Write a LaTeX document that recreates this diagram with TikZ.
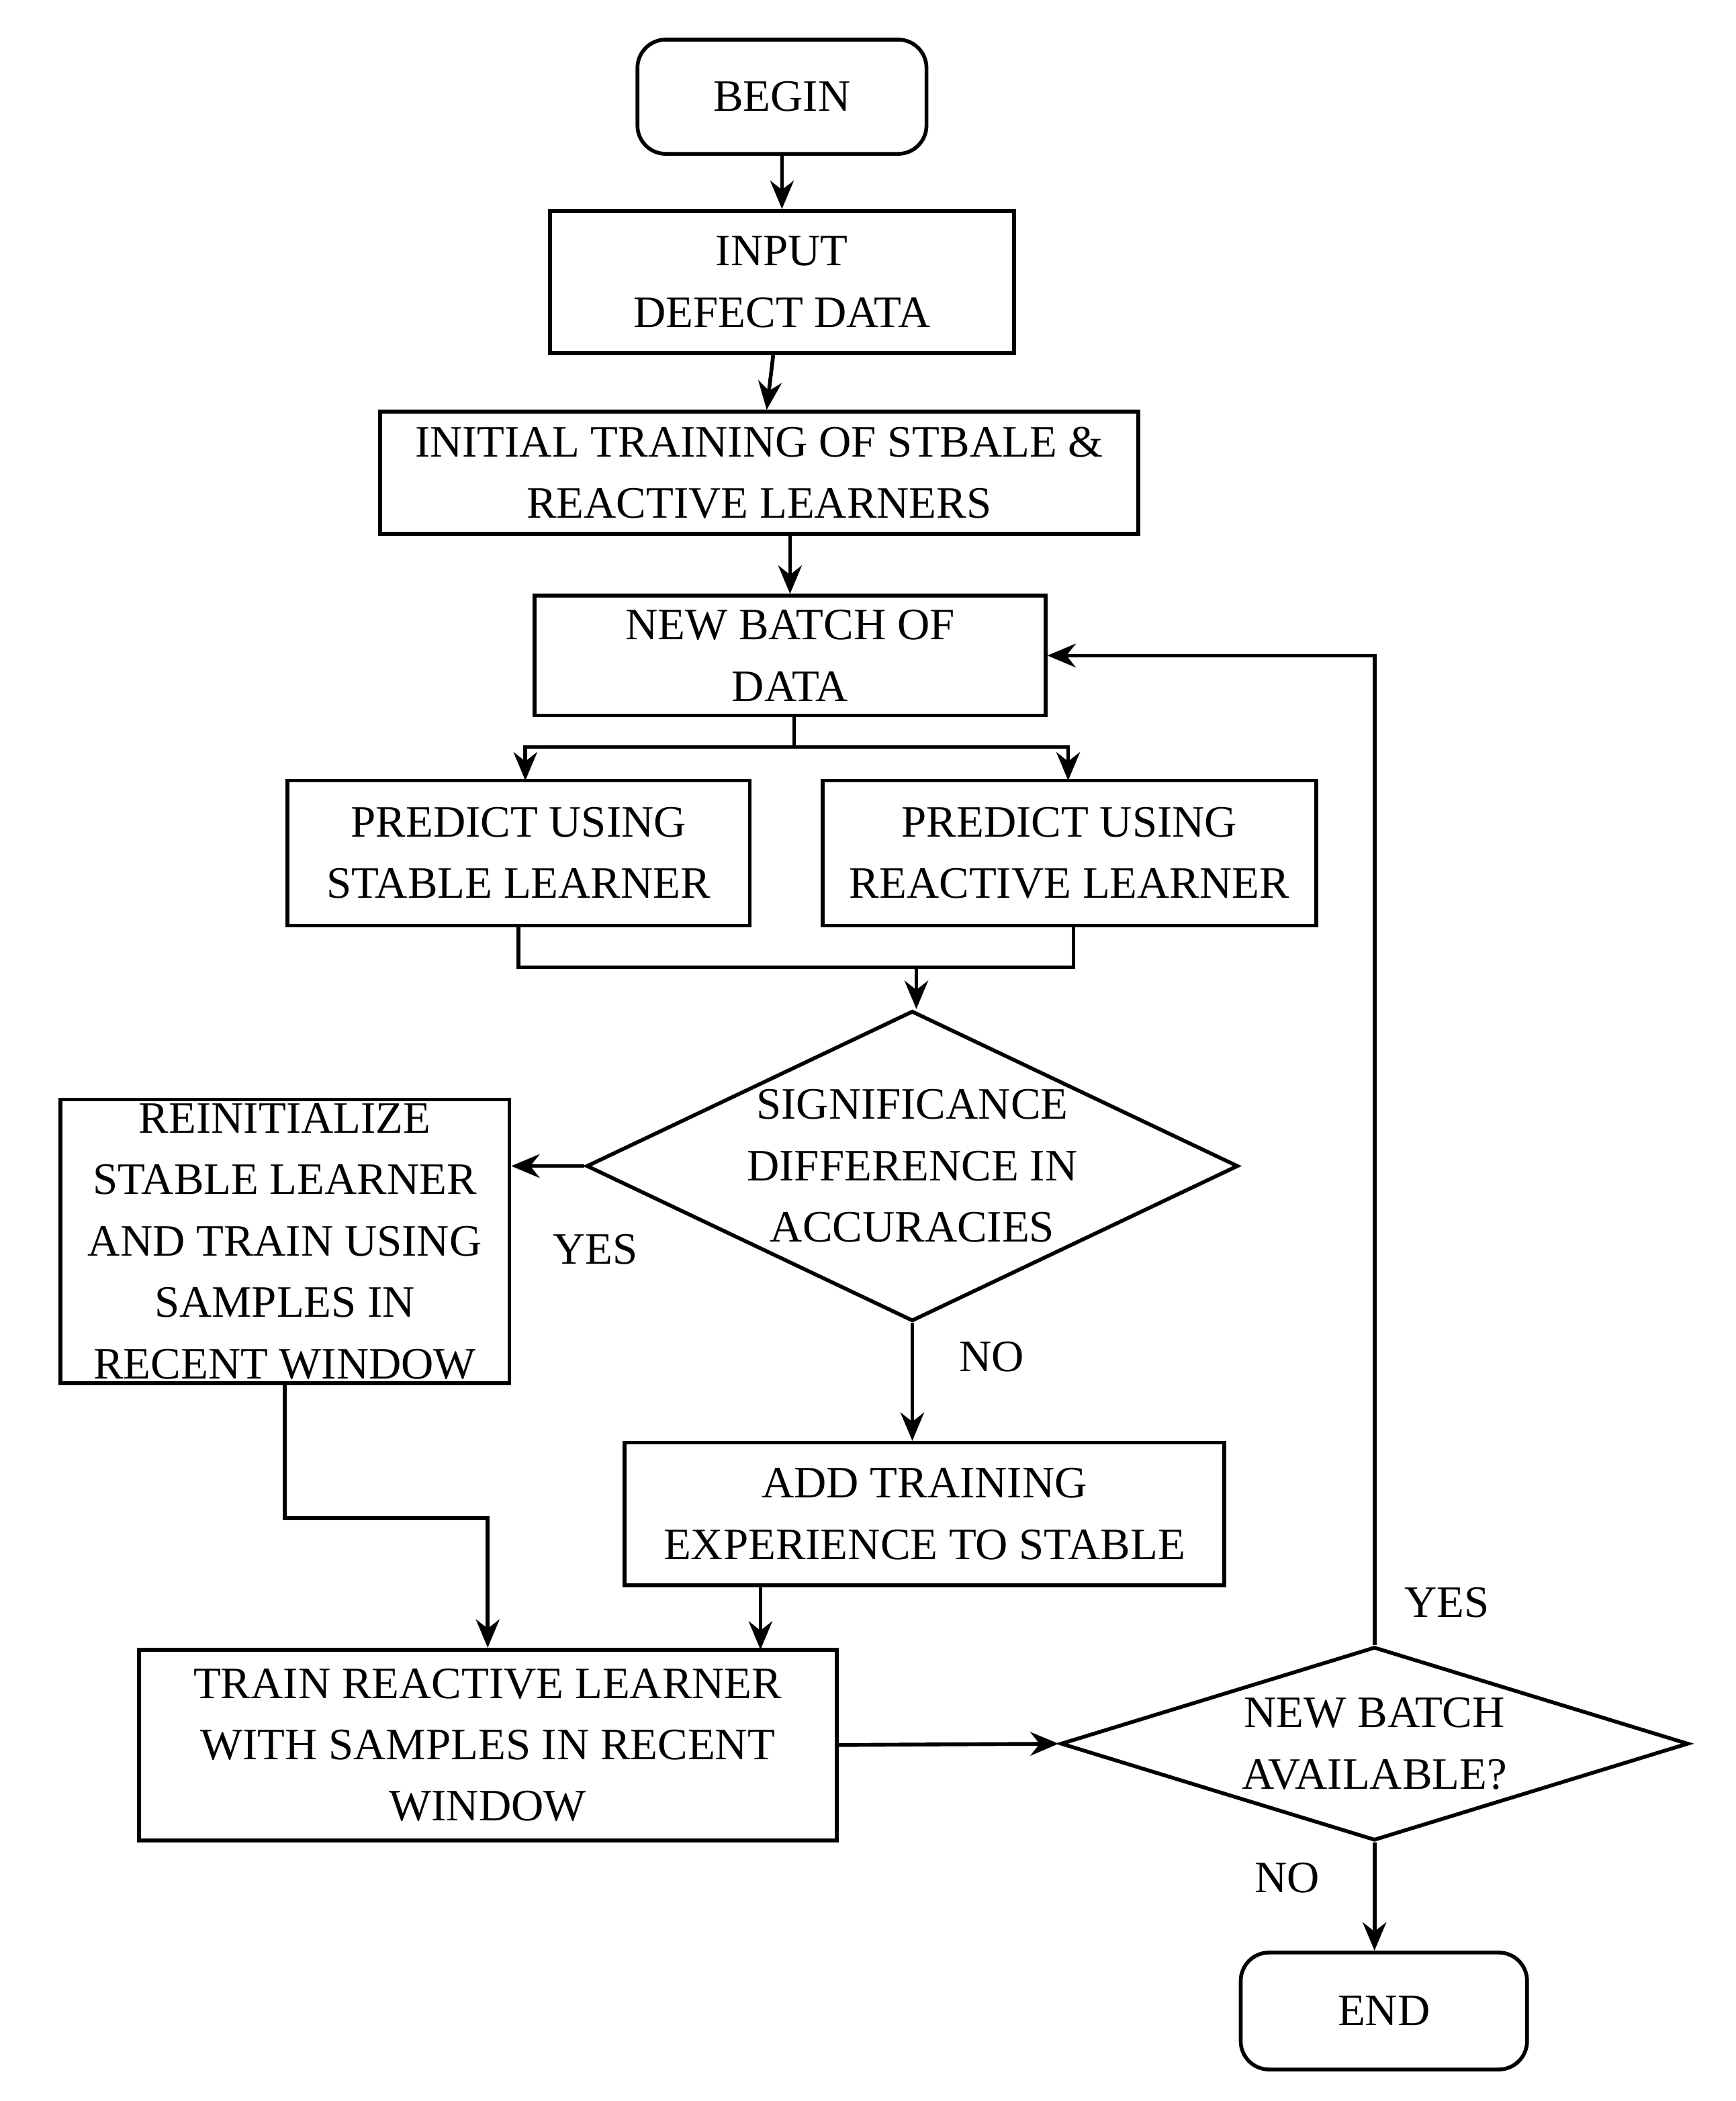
\documentclass[tikz,border=0pt]{standalone}
\usepackage{fontspec}
\setmainfont{Liberation Serif}
\usetikzlibrary{arrows.meta,shapes.geometric}

\tikzset{
  box/.style={draw, thick, align=center, inner sep=0pt},
  term/.style={box, rounded corners=6pt},
  decision/.style={draw, thick, diamond, aspect=2.1, align=center, inner sep=0pt},
  flow/.style={thick, -{Stealth[length=6pt,width=5pt]}},
  lbl/.style={font=\fontsize{9.5}{11}\selectfont}
}

\begin{document}
\begin{tikzpicture}[x=0.01cm,y=-0.01cm, every node/.style={font=\fontsize{9.5}{13}\selectfont}]
\useasboundingbox (0,0) rectangle (1292,1564);
% boxes
\node[term, minimum width=2.15cm, minimum height=0.85cm] (begin) at (582,72) {BEGIN};
\node[box, minimum width=3.45cm, minimum height=1.06cm] (input) at (582,210) {INPUT\\DEFECT DATA};
\node[box, minimum width=5.64cm, minimum height=0.91cm] (init) at (565,352) {INITIAL TRAINING OF STBALE \&\\REACTIVE LEARNERS};
\node[box, minimum width=3.8cm, minimum height=0.89cm] (batch) at (588,488) {NEW BATCH OF\\DATA};
\node[box, minimum width=3.44cm, minimum height=1.08cm] (pstable) at (386,635) {PREDICT USING\\STABLE LEARNER};
\node[box, minimum width=3.67cm, minimum height=1.08cm] (preact) at (796,635) {PREDICT USING\\REACTIVE LEARNER};
\node[decision, minimum width=4.83cm, minimum height=2.27cm] (signif) at (679,868) {SIGNIFICANCE\\DIFFERENCE IN\\ACCURACIES};
\node[box, minimum width=3.34cm, minimum height=2.11cm] (reinit) at (212,924) {REINITIALIZE\\STABLE LEARNER\\AND TRAIN USING\\SAMPLES IN\\RECENT WINDOW};
\node[box, minimum width=4.46cm, minimum height=1.06cm] (add) at (688,1127) {ADD TRAINING\\EXPERIENCE TO STABLE};
\node[box, minimum width=5.19cm, minimum height=1.42cm] (train) at (363,1299) {TRAIN REACTIVE LEARNER\\WITH SAMPLES IN RECENT\\WINDOW};
\node[decision, minimum width=4.67cm, minimum height=1.44cm, aspect=3.2] (avail) at (1023,1298) {NEW BATCH\\AVAILABLE?};
\node[term, minimum width=2.13cm, minimum height=0.87cm] (end) at (1030,1497) {END};
% connectors
\draw[flow] (begin) -- (input);
\draw[flow] (input) -- (init);
\draw[flow] (init.south -| batch) -- (batch);
\coordinate (split) at (591,556);
\draw[thick] (batch.south -| split) -- (split);
\draw[flow] (split) -| (391,581);
\draw[flow] (split) -| (795,581);
\coordinate (join) at (682,720);
\draw[thick] (pstable.south) |- (join);
\draw[thick] (799,689) |- (join);
\draw[flow] (join) -- (signif.north -| join);
\draw[flow] (signif.west) -- (reinit.east |- signif.west);
\draw[flow] (signif.south) -- (signif.south |- add.north);
\draw[flow] (reinit.south) |- (363,1130) -- (train.north);
\draw[flow] (566,1180) -- (566,1228);
\draw[flow] (train.east) -- (avail.west);
\draw[flow] (avail.north) |- (batch.east);
\draw[flow] (avail.south) -- (end.north -| avail.south);
% labels
\node[lbl] (yes1) at (443,930) {YES};
\node[lbl] (no1) at (738,1010) {NO};
\node[lbl] (yes2) at (1077,1193) {YES};
\node[lbl] (no2) at (958,1398) {NO};
\end{tikzpicture}
\end{document}
